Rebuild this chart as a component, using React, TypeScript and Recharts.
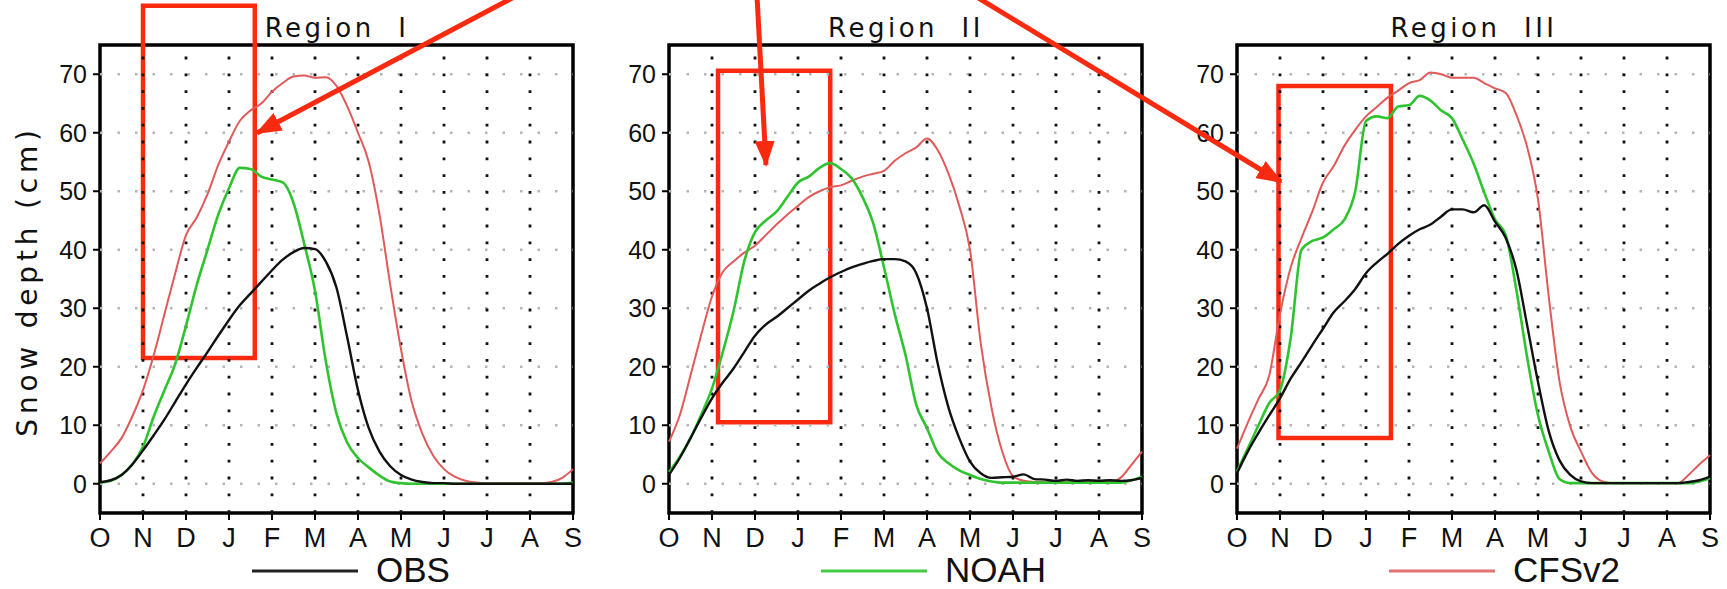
import { Line, LineChart, ReferenceArea, ReferenceLine, XAxis, YAxis } from 'recharts';

const MONTHS = ['O', 'N', 'D', 'J', 'F', 'M', 'A', 'M', 'J', 'J', 'A', 'S'];
const MONTH_TICKS = MONTHS.map((_, i) => i);
const Y_TICKS = [0, 10, 20, 30, 40, 50, 60, 70];
// one value every quarter month, Oct 1 .. Sep 1
const STEP = 0.25;

const R1_OBS = [0.3, 0.6, 1.5, 3.3, 5.7, 8.3, 11, 14, 17, 19.8, 22.5, 25.3, 28, 30.5, 32.5, 34.5, 36.5, 38.3, 39.6, 40.3, 40.1, 38, 33.5, 25, 16, 9.5, 5.5, 3, 1.5, 0.7, 0.3, 0.1, 0.1, 0, 0, 0, 0, 0, 0, 0, 0, 0, 0, 0, 0];
const R1_NOAH = [0.2, 0.5, 1.5, 3.3, 6.3, 11.5, 16, 20.5, 27, 34, 40, 46, 50.5, 54, 53.8, 52.5, 52, 51.5, 48, 41, 33, 21, 12, 7, 4.4, 2.8, 1.4, 0.4, 0.1, 0, 0, 0, 0, 0, 0, 0, 0, 0, 0, 0, 0, 0, 0, 0, 0.2];
const R1_CFS = [3.5, 5.5, 7.8, 11.5, 16, 22, 29, 36, 42.5, 45.5, 49.5, 54.5, 58.5, 62, 63.8, 65, 67, 68.5, 69.6, 69.8, 69.4, 69.5, 68, 64.5, 60, 55, 46, 34, 23, 14, 8.5, 4.8, 2.5, 1.2, 0.5, 0.2, 0.1, 0.1, 0.1, 0.1, 0.1, 0.1, 0.3, 1, 2.5];

const R2_OBS = [1.5, 4.4, 7.8, 11.3, 14.6, 17.3, 19.7, 22.5, 25.3, 27.2, 28.5, 30, 31.5, 33, 34.2, 35.3, 36.2, 37, 37.6, 38.1, 38.4, 38.4, 38, 36, 30, 20.5, 13, 7.8, 3.8, 1.8, 1, 1.1, 1.2, 1.6, 0.8, 0.7, 0.5, 0.7, 0.5, 0.6, 0.5, 0.6, 0.5, 0.6, 1];
const R2_NOAH = [2, 4.6, 7.8, 11.8, 16.3, 22.5, 29.5, 38, 43, 45, 46.5, 49, 51.5, 52.5, 54, 54.8, 53.8, 52.2, 49, 44.5, 37, 29, 22, 13.5, 9.5, 5.3, 3.5, 2.3, 1.5, 0.8, 0.4, 0.2, 0.2, 0.2, 0.2, 0.2, 0.2, 0.2, 0.2, 0.2, 0.2, 0.2, 0.2, 0.6, 1.2];
const R2_CFS = [7.2, 11.7, 18.5, 25.5, 32, 36.2, 38, 39.5, 40.7, 42.5, 44.3, 46, 47.5, 49, 50, 50.7, 51, 51.8, 52.5, 53, 53.5, 55.2, 56.5, 57.5, 59, 57, 53, 47.5, 40, 24, 13, 5.5, 1.3, 0.5, 0.3, 0.3, 0.3, 0.3, 0.3, 0.3, 0.3, 0.3, 1, 3.2, 5.5];

const R3_OBS = [1.8, 5.5, 8.7, 11.7, 14.6, 18, 20.8, 23.7, 26.5, 29.3, 31.2, 33.3, 36, 37.8, 39.3, 41, 42.4, 43.5, 44.3, 45.7, 46.9, 46.9, 46.4, 47.6, 44.8, 42, 36.5, 27, 17.4, 9, 4, 1.5, 0.4, 0.1, 0.1, 0.1, 0.1, 0.1, 0.1, 0.1, 0.1, 0.1, 0.3, 0.6, 1.2];
const R3_NOAH = [2.1, 6, 10, 13.8, 16, 25, 40, 41.5, 42.1, 43.5, 45.2, 50, 62, 62.8, 62.5, 64.5, 64.7, 66.3, 65.5, 63.8, 62.5, 58.8, 54.8, 49.8, 45.2, 42.5, 33, 21.5, 11.7, 5.5, 0.8, 0.1, 0.1, 0.1, 0.1, 0.1, 0.1, 0.1, 0.1, 0.1, 0.1, 0.1, 0.1, 0.4, 1];
const R3_CFS = [6, 10.4, 14.5, 18.5, 29, 37, 42, 46.5, 51.5, 54.3, 57.8, 60.5, 62.8, 64.4, 66, 67.2, 68.5, 69, 70.3, 70, 69.4, 69.4, 69.4, 68.5, 67.6, 66.8, 63, 57.5, 48.6, 32, 17.5, 9.8, 5.5, 1.9, 0.4, 0.1, 0.1, 0.1, 0.1, 0.1, 0.1, 0.1, 1.5, 3.3, 4.9];

const TITLES = ['Region\u00a0\u00a0I', 'Region\u00a0\u00a0II', 'Region\u00a0\u00a0III'];
// red boxes drawn on the figure, in month / cm units
const HIGHLIGHTS = [
  { x1: 1.0, x2: 3.6, y1: 21.5, y2: 81.7 },
  { x1: 1.14, x2: 3.75, y1: 10.5, y2: 70.6 },
  { x1: 0.965, x2: 3.58, y1: 7.8, y2: 68 },
];
const LEGEND = [
  { name: 'OBS', color: '#222' },
  { name: 'NOAH', color: '#44cc44' },
  { name: 'CFSv2', color: '#e27474' },
];

const COLORS = { obs: '#111', noah: '#2fc32f', cfs: '#e05a5a' };
const ANNOT = '#fa2a10';
const FONT = '"Liberation Sans", Arial, sans-serif';
const TITLE_FONT = '"DejaVu Sans", sans-serif';

const BOX_LEFT = [100, 669, 1237];
const CHART_W = 583;
const CHART_H = 589;

const buildRows = (obs: number[], noah: number[], cfs: number[]) =>
  obs.map((v, i) => ({ m: i * STEP, obs: v, noah: noah[i], cfs: cfs[i] }));

const PANELS = [
  buildRows(R1_OBS, R1_NOAH, R1_CFS),
  buildRows(R2_OBS, R2_NOAH, R2_CFS),
  buildRows(R3_OBS, R3_NOAH, R3_CFS),
];

const Panel = ({ idx }: { idx: number }) => {
  const rows = PANELS[idx];
  const hl = HIGHLIGHTS[idx];
  return (
    <div style={{ position: 'absolute', left: BOX_LEFT[idx] - 100, top: 0 }}>
      <LineChart width={CHART_W} height={CHART_H} data={rows} margin={{ top: 45, right: 10, bottom: 0, left: 0 }}>
        <XAxis
          dataKey="m"
          type="number"
          domain={[0, 11]}
          ticks={MONTH_TICKS}
          interval={0}
          tickFormatter={(v: number) => MONTHS[v]}
          height={76}
          axisLine={false}
          tickLine={{ stroke: '#000', strokeWidth: 2 }}
          tickSize={7}
          tickMargin={8}
          tick={{ fontSize: 27, fill: '#111', fontFamily: FONT }}
        />
        <YAxis
          type="number"
          domain={[-5, 75]}
          ticks={Y_TICKS}
          interval={0}
          width={100}
          axisLine={false}
          tickLine={{ stroke: '#000', strokeWidth: 2 }}
          tickSize={7}
          tickMargin={6}
          tick={{ fontSize: 25, fill: '#111', fontFamily: FONT }}
        />
        {Y_TICKS.map((v) => (
          <ReferenceLine key={`h${v}`} y={v} stroke="#b4b4b4" strokeWidth={2.5} strokeDasharray="2.5 15" />
        ))}
        {MONTH_TICKS.slice(1, -1).map((m) => (
          <ReferenceLine key={`v${m}`} x={m} stroke="#111" strokeWidth={2.8} strokeDasharray="2.8 14" />
        ))}
        <Line type="monotone" dataKey="cfs" stroke={COLORS.cfs} strokeWidth={2} dot={false} isAnimationActive={false} />
        <Line type="monotone" dataKey="noah" stroke={COLORS.noah} strokeWidth={2.6} dot={false} isAnimationActive={false} />
        <Line type="monotone" dataKey="obs" stroke={COLORS.obs} strokeWidth={2.4} dot={false} isAnimationActive={false} />
        <ReferenceArea x1={0} x2={11} y1={-5} y2={75} fill="none" fillOpacity={0} stroke="#000" strokeWidth={3.5} />
        <ReferenceArea
          x1={hl.x1}
          x2={hl.x2}
          y1={hl.y1}
          y2={hl.y2}
          ifOverflow="visible"
          fill="none"
          fillOpacity={0}
          stroke={ANNOT}
          strokeWidth={4.5}
        />
      </LineChart>
    </div>
  );
};

const Overlay = () => (
  <svg width={1727} height={589} style={{ position: 'absolute', left: 0, top: 0, pointerEvents: 'none' }}>
    <defs>
      <marker id="head" markerUnits="userSpaceOnUse" markerWidth={26} markerHeight={20} refX={24} refY={10} orient="auto">
        <path d="M0,0 L26,10 L0,20 z" fill={ANNOT} />
      </marker>
    </defs>
    {TITLES.map((t, i) => (
      <text
        key={t}
        x={BOX_LEFT[i] + 237}
        y={37}
        textAnchor="middle"
        fontSize={26}
        fontFamily={TITLE_FONT}
        fill="#111"
        style={{ letterSpacing: '3.5px' }}
      >
        {t}
      </text>
    ))}
    <text
      transform="translate(37,281) rotate(-90)"
      textAnchor="middle"
      fontSize={28}
      fontFamily={TITLE_FONT}
      fill="#111"
      style={{ letterSpacing: '4.8px' }}
    >
      Snow depth (cm)
    </text>
    {LEGEND.map((l, i) => (
      <g key={l.name}>
        <line x1={BOX_LEFT[i] + 152} x2={BOX_LEFT[i] + 258} y1={571} y2={571} stroke={l.color} strokeWidth={3.2} />
        <text x={BOX_LEFT[i] + 276} y={582} fontSize={35} fontFamily={FONT} fill="#111">
          {l.name}
        </text>
      </g>
    ))}
    <line x1={516} y1={-4} x2={257} y2={133} stroke={ANNOT} strokeWidth={5} markerEnd="url(#head)" />
    <line x1={757} y1={-4} x2={766} y2={165} stroke={ANNOT} strokeWidth={5} markerEnd="url(#head)" />
    <line x1={975} y1={-4} x2={1281} y2={182} stroke={ANNOT} strokeWidth={5} markerEnd="url(#head)" />
  </svg>
);

export default function App() {
  return (
    <div style={{ position: 'absolute', left: 0, top: 0, width: 1727, height: 589, background: '#fff', overflow: 'hidden' }}>
      {PANELS.map((_, i) => (
        <Panel key={i} idx={i} />
      ))}
      <Overlay />
    </div>
  );
}
